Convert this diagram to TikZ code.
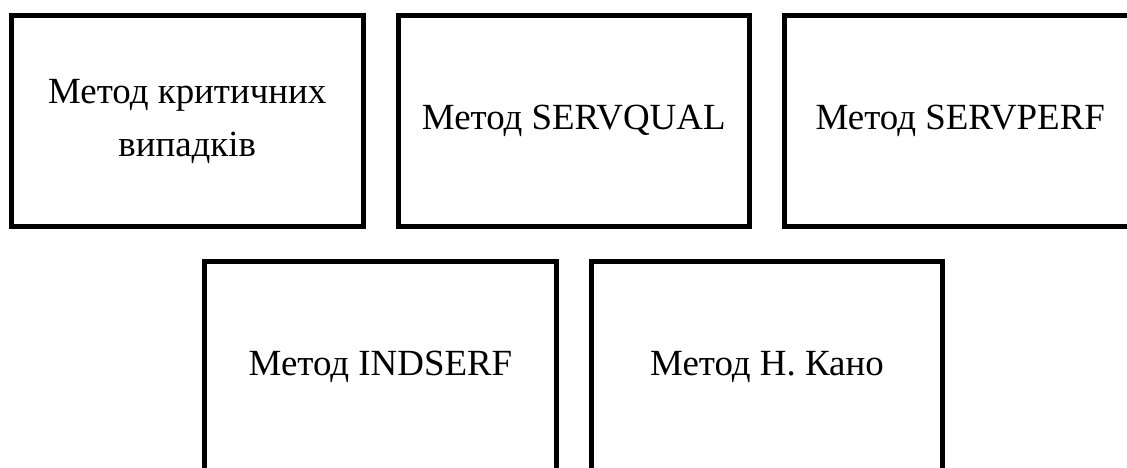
\documentclass[tikz,border=0pt]{standalone}
\usepackage{fontspec}
\setmainfont{Liberation Serif}
\usetikzlibrary{positioning}

\begin{document}
\begin{tikzpicture}[
      node distance=0.6cm,
      box/.style={draw, line width=0.1cm, minimum width=7.03cm,
                  minimum height=4.23cm, align=center,
                  font=\fontsize{21}{30}\selectfont}
  ]
    \clip (0,0) rectangle (22.54,-9.36);

    \node[box] (crit) at (3.745,-2.425) {Метод критичних\\випадків};
    \node[box, right=of crit]  (servqual) {Метод SERVQUAL};
    \node[box, right=of servqual] (servperf) {Метод SERVPERF};

    \coordinate[below=0.59cm of servqual.south] (gap);
    \node[box, anchor=north east, xshift=-0.3cm] (indserf) at (gap) {Метод INDSERF};
    \node[box, right=of indserf] (kano) {Метод Н. Кано};
  \end{tikzpicture}
\end{document}
